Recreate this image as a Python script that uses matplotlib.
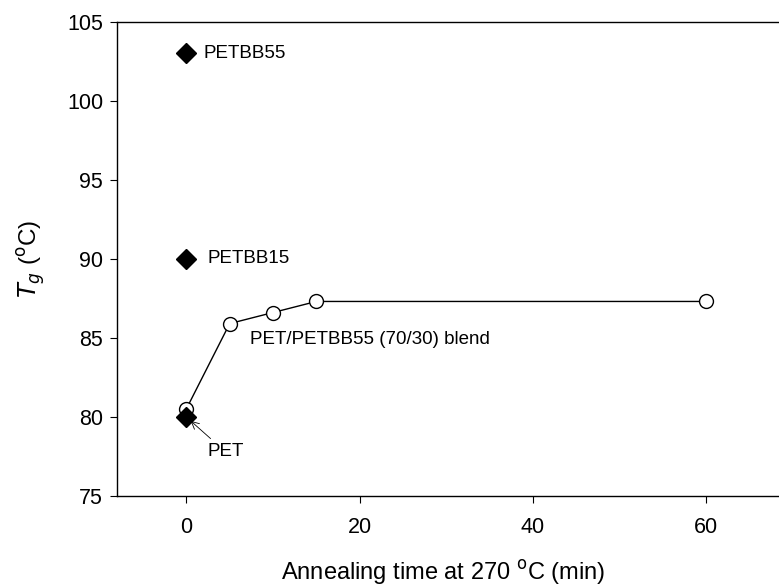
import matplotlib
matplotlib.use("Agg")
import matplotlib.pyplot as plt

plt.rcParams['font.family'] = ['Liberation Sans', 'DejaVu Sans']

# data
blend_time = [0, 5, 10, 15, 60]
blend_tg = [80.5, 85.9, 86.6, 87.3, 87.3]
pure_names = ["PETBB55", "PETBB15", "PET"]
pure_time = [0, 0, 0]
pure_tg = [103, 90, 80]
blend_label = "PET/PETBB55 (70/30) blend"
xticks = [0, 20, 40, 60]
yticks = [75, 80, 85, 90, 95, 100, 105]

fig = plt.figure(figsize=(7.79, 5.86), dpi=100)
ax = fig.add_axes([117/779, 1-496/586, (793-117)/779, (496-21.5)/586])

ax.plot(blend_time, blend_tg, '-', color='black', lw=1.0, marker='o', ms=10,
        mfc='white', mec='black', mew=1.0, zorder=3)
ax.plot(pure_time, pure_tg, 'D', color='black', ms=10, zorder=4, ls='none')

ax.set_xlim(-8, 70)
ax.set_ylim(75, 105)
ax.set_xticks(xticks)
ax.set_yticks(yticks)
ax.tick_params(direction='out', length=5, width=0.8, labelsize=15.5, pad=5)
ax.tick_params(axis='x', pad=10)
for s in ax.spines.values():
    s.set_linewidth(1.0)

ax.text(pure_time[0] + 2.0, pure_tg[0], pure_names[0], fontsize=13.5, va='center', ha='left')
ax.text(pure_time[1] + 2.4, pure_tg[1], pure_names[1], fontsize=13.5, va='center', ha='left')
ax.annotate(pure_names[2], xy=(pure_time[2] + 0.5, pure_tg[2] - 0.25),
            xytext=(pure_time[2] + 2.4, pure_tg[2] - 2.2), fontsize=13.5,
            va='center', ha='left',
            arrowprops=dict(arrowstyle='->', color='black', lw=0.6,
                            shrinkA=2, shrinkB=0))
ax.text(blend_time[1] + 2.3, 84.9, blend_label, fontsize=13.5, va='center', ha='left')

ax.set_xlabel("Annealing time at 270 $^{\\rm o}$C (min)", fontsize=17, labelpad=16)
ax.xaxis.set_label_coords((443 - 117) / 676, -0.13)
ax.set_ylabel("$T_g$ ($^{\\rm o}$C)", fontsize=17.5, labelpad=14)

fig.savefig("out.png", dpi=100)
